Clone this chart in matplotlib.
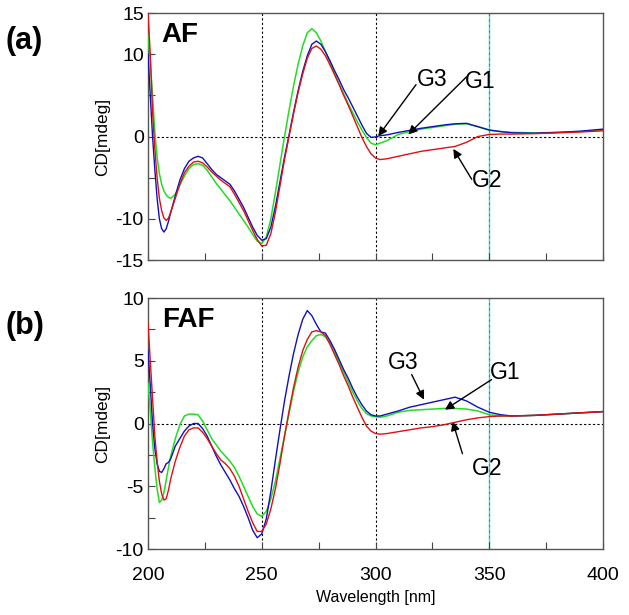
import numpy as np
import matplotlib
matplotlib.use("Agg")
from matplotlib import pyplot as plt

plt.rcParams['font.family'] = ['Liberation Sans', 'DejaVu Sans']

# ----------
# Data

wl = [200, 201, 202, 203, 204, 205, 206, 207, 208, 209, 210, 212, 214, 216, 218,
      220, 222, 224, 226, 228, 230, 232, 234, 236, 238, 240, 242, 244, 246, 248,
      250, 252, 254, 256, 258, 260, 262, 264, 266, 268, 270, 272, 274, 276, 278,
      280, 282, 284, 286, 288, 290, 292, 294, 296, 298, 300, 302, 305, 310, 315,
      320, 325, 330, 335, 340, 345, 350, 355, 360, 370, 380, 390, 400]

# (a) AF
af_g3 = [10, 5, 0, -4, -7.5, -10, -11.2, -11.6, -11.2, -10.3, -9.2, -7.2, -5.3, -3.9, -3.0,
         -2.6, -2.4, -2.6, -3.3, -4.0, -4.6, -5.0, -5.4, -5.8, -6.6, -7.6, -8.6, -9.8, -11.0, -12.0,
         -12.6, -12.4, -11.0, -8.5, -5.5, -2.5, 0.2, 3.0, 5.6, 7.9, 9.8, 11.2, 11.6, 11.2, 10.3,
         9.2, 8.0, 6.9, 5.7, 4.7, 3.6, 2.5, 1.4, 0.4, -0.1, -0.05, 0.1, 0.2, 0.5, 0.75,
         1.0, 1.2, 1.4, 1.55, 1.6, 1.2, 0.8, 0.6, 0.45, 0.4, 0.5, 0.65, 0.9]
af_g2 = [15, 10, 3, -1.5, -5, -7.5, -9.0, -9.9, -10.2, -9.9, -9.2, -7.5, -5.8, -4.4, -3.6,
         -3.1, -3.0, -3.2, -3.7, -4.3, -4.8, -5.3, -5.7, -6.1, -7.0, -8.0, -9.0, -10.2, -11.4, -12.5,
         -13.3, -13.2, -11.8, -9.2, -6.0, -2.8, 0.0, 2.8, 5.4, 7.6, 9.5, 10.7, 11.0, 10.6, 9.8,
         8.7, 7.5, 6.3, 5.0, 3.8, 2.5, 1.2, -0.1, -1.2, -2.1, -2.6, -2.8, -2.7, -2.4, -2.1,
         -1.8, -1.6, -1.4, -1.2, -0.7, 0.0, 0.25, 0.3, 0.3, 0.35, 0.45, 0.55, 0.7]
af_g1 = [12.5, 9, 5, 0.5, -2.5, -4.5, -5.8, -6.6, -7.1, -7.4, -7.5, -7.0, -5.9, -4.8, -3.9,
         -3.4, -3.3, -3.5, -4.1, -4.9, -5.7, -6.4, -7.1, -7.8, -8.6, -9.4, -10.2, -11.0, -11.9, -12.7,
         -13.0, -12.2, -10.0, -6.8, -3.4, 0.0, 3.2, 6.2, 8.8, 11.0, 12.6, 13.1, 12.6, 11.6, 10.3,
         9.0, 7.7, 6.4, 5.2, 4.0, 2.9, 1.8, 0.8, -0.1, -0.8, -1.0, -0.8, -0.5, 0.25, 0.6,
         0.9, 1.1, 1.3, 1.5, 1.55, 1.2, 0.75, 0.6, 0.5, 0.45, 0.5, 0.6, 0.8]

# (b) FAF
faf_g3 = [5.8, 3, 0, -2, -3.2, -3.8, -3.9, -3.6, -3.2, -3.1, -2.8, -1.8, -1.2, -0.6, -0.2,
          0.0, 0.0, -0.4, -1.0, -1.8, -2.6, -3.3, -3.9, -4.5, -5.2, -5.8, -6.6, -7.5, -8.5, -9.1,
          -8.8, -7.6, -5.4, -2.9, -0.5, 1.8, 3.8, 5.6, 7.1, 8.3, 9.0, 8.6, 7.9, 7.3, 7.2,
          6.6, 5.9, 5.1, 4.3, 3.6, 2.8, 2.1, 1.5, 1.0, 0.7, 0.6, 0.6, 0.75, 1.0, 1.3,
          1.5, 1.7, 1.9, 2.1, 1.8, 1.3, 0.9, 0.7, 0.6, 0.65, 0.75, 0.85, 0.95]
faf_g2 = [8.0, 5, 2, -1, -3, -4.6, -5.6, -6.1, -6.0, -5.3, -4.4, -3.0, -1.9, -1.0, -0.5,
          -0.35, -0.35, -0.7, -1.2, -1.8, -2.4, -2.9, -3.2, -3.6, -4.2, -5.0, -6.0, -7.0, -7.9, -8.6,
          -8.6, -8.0, -6.8, -5.2, -3.2, -1.0, 1.0, 2.9, 4.5, 5.8, 6.7, 7.3, 7.4, 7.3, 7.0,
          6.3, 5.5, 4.7, 3.8, 3.0, 2.1, 1.3, 0.5, -0.2, -0.6, -0.8, -0.85, -0.8, -0.65, -0.5,
          -0.35, -0.25, -0.1, 0.1, 0.3, 0.45, 0.55, 0.6, 0.6, 0.65, 0.75, 0.85, 0.95]
faf_g1 = [3.2, 1, -1.5, -3.5, -5.2, -6.3, -6.1, -5.5, -4.5, -3.5, -2.6, -1.2, -0.1, 0.6, 0.75,
          0.75, 0.7, 0.2, -0.5, -1.2, -1.7, -2.2, -2.6, -3.0, -3.5, -4.2, -5.0, -5.8, -6.6, -7.2,
          -7.4, -7.0, -6.0, -4.6, -2.8, -1.0, 0.8, 2.6, 4.1, 5.3, 6.1, 6.6, 7.0, 7.1, 6.9,
          6.4, 5.7, 4.9, 4.1, 3.3, 2.5, 1.8, 1.2, 0.8, 0.6, 0.55, 0.5, 0.6, 0.9, 1.05,
          1.1, 1.15, 1.2, 1.2, 1.15, 1.0, 0.7, 0.6, 0.6, 0.65, 0.75, 0.85, 0.95]

# annotation (label, text pos, arrow tail, arrow head) in data units
af_notes = [("G3", (324.7, 6.9), (317.8, 6.3), (301.2, 0.05)),
            ("G1", (345.9, 6.7), (340.0, 7.25), (314.4, 0.25)),
            ("G2", (348.9, -5.4), (342.3, -5.2), (334.2, -1.5))]
faf_notes = [("G3", (312.2, 4.9), (315.9, 3.9), (321.3, 1.9)),
             ("G1", (356.9, 4.1), (351.0, 3.5), (330.5, 1.1)),
             ("G2", (348.9, -3.6), (338.2, -2.4), (333.9, 0.15))]

c_g1 = '#22dd22'
c_g2 = '#e01010'
c_g3 = '#1010c0'

# ----------
# Figure

fig = plt.figure(figsize=(6.29, 6.15), dpi=100)
ax1 = fig.add_axes([0.2353, 0.5772, 0.7234, 0.4016])
ax2 = fig.add_axes([0.2353, 0.1073, 0.7234, 0.4081])


def setup(ax, g1, g2, g3, notes, name, tag, ylim, yticks, ylabels, minor):
    ax.axvline(250, color='k', ls=(0, (2, 2)), lw=0.8, zorder=1)
    ax.axvline(300, color='k', ls=(0, (2, 2)), lw=0.8, zorder=1)
    ax.axvline(350, color='#33dddd', lw=1.0, zorder=1)
    ax.axvline(350, color='#e04060', ls=(0, (2, 3)), lw=0.8, zorder=1)
    ax.axhline(0, color='k', ls=(0, (2, 2)), lw=0.8, zorder=1)
    ax.plot(wl, g1, color=c_g1, lw=1.1, zorder=3)
    ax.plot(wl, g3, color=c_g3, lw=1.0, zorder=3)
    ax.plot(wl, g2, color=c_g2, lw=1.0, zorder=4)
    ax.set_xlim(200, 400)
    ax.set_ylim(*ylim)
    ax.set_yticks(yticks)
    ax.set_yticklabels(ylabels)
    ax.set_yticks(minor, minor=True)
    ax.set_xticks([200, 250, 300, 350, 400])
    ax.set_xticks([225, 275, 325, 375], minor=True)
    ax.tick_params(which='both', direction='in', length=5, width=0.8,
                   color='#444444', labelsize=14)
    ax.tick_params(axis='y', pad=3)
    ax.tick_params(axis='x', pad=13)
    for s in ax.spines.values():
        s.set_color('#555555')
        s.set_linewidth(1.0)
    ax.set_ylabel('CD[mdeg]', fontsize=12.5)
    ax.yaxis.set_label_coords(-0.083, 0.5)
    ax.text(0.03, 0.965, name, transform=ax.transAxes, fontsize=20,
            fontweight='bold', va='top', ha='left')
    fig.text(0.008, ax.get_position().y1 - 0.045, tag, fontsize=22,
             fontweight='bold', va='center', ha='left')
    for label, tpos, tail, head in notes:
        ax.text(tpos[0], tpos[1], label, fontsize=16.5, ha='center', va='center')
        ax.annotate('', xy=head, xytext=tail,
                    arrowprops=dict(arrowstyle='-|>', color='k', lw=1.0,
                                    mutation_scale=13, shrinkA=0, shrinkB=0))


setup(ax1, af_g1, af_g2, af_g3, af_notes, 'AF', '(a)', (-15, 15),
      [-15, -10, -5, 0, 5, 10, 15], ['-15', '-10', '', '0', '', '10', '15'], [])
ax1.tick_params(axis='x', labelbottom=False)

setup(ax2, faf_g1, faf_g2, faf_g3, faf_notes, 'FAF', '(b)', (-10, 10),
      [-10, -5, 0, 5, 10], ['-10', '-5', '0', '5', '10'], [-7.5, -2.5, 2.5, 7.5])
ax2.set_xlabel('Wavelength [nm]', fontsize=11.5, labelpad=4)

fig.savefig('out.png', dpi=100)
